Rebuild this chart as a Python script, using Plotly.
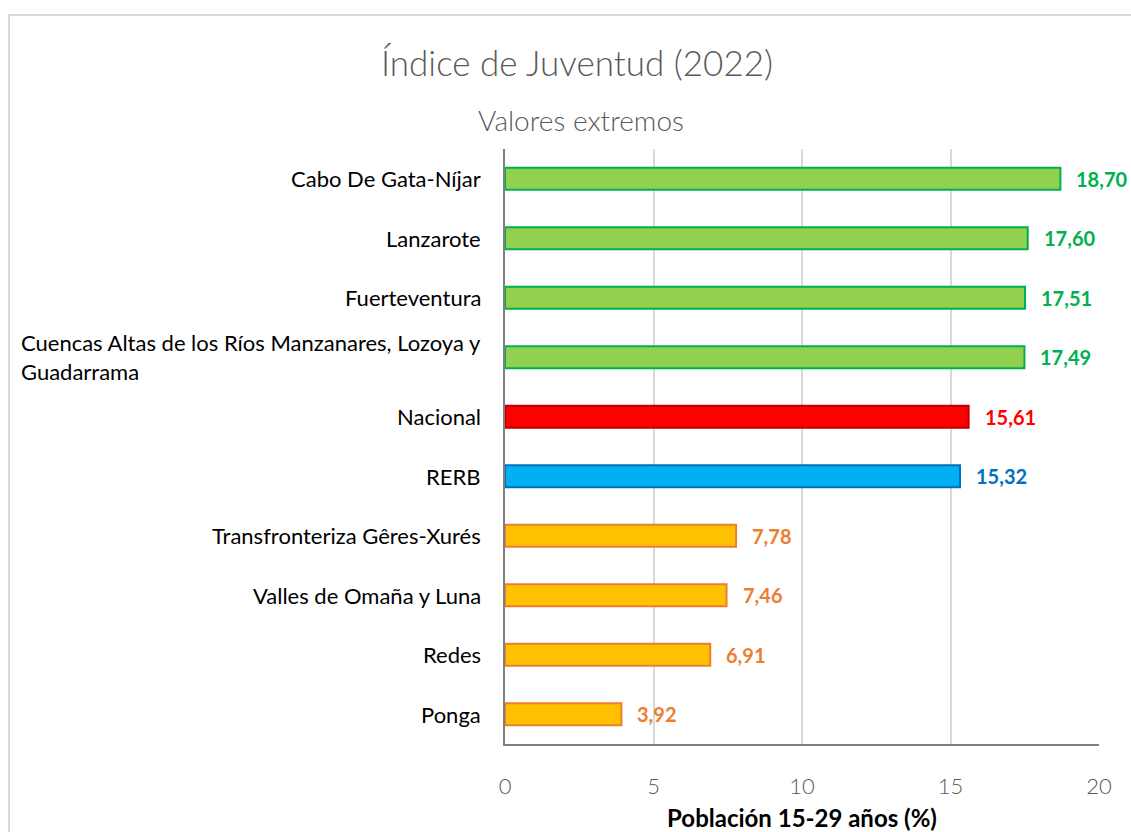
import plotly.graph_objects as go

categories = [
    "Cabo De Gata-Níjar",
    "Lanzarote",
    "Fuerteventura",
    "Cuencas Altas de los Ríos Manzanares, Lozoya y<br>Guadarrama",
    "Nacional",
    "RERB",
    "Transfronteriza Gêres-Xurés",
    "Valles de Omaña y Luna",
    "Redes",
    "Ponga",
]
values = [18.70, 17.60, 17.51, 17.49, 15.61, 15.32, 7.78, 7.46, 6.91, 3.92]
groups = ["top", "top", "top", "top", "nacional", "rerb", "low", "low", "low", "low"]
x_ticks = [0, 5, 10, 15, 20]

fill_colors = {"top": "#92D050", "nacional": "#FF0000", "rerb": "#00B0F0", "low": "#FFC000"}
line_colors = {"top": "#00B050", "nacional": "#C00000", "rerb": "#0070C0", "low": "#ED7D31"}
text_colors = {"top": "#00B050", "nacional": "#FF0000", "rerb": "#0070C0", "low": "#ED7D31"}

FONT = "Lato"
W, H = 1131, 832
L, R, T, B = 505, 32, 149, 88
pw, ph = W - L - R, H - T - B


def px_x(page_x):
    return (page_x - L) / pw


def px_y(page_y):
    return (H - B - page_y) / ph


fig = go.Figure()
fig.add_trace(go.Bar(
    y=categories,
    x=values,
    orientation="h",
    width=0.37,
    marker=dict(
        color=[fill_colors[g] for g in groups],
        line=dict(color=[line_colors[g] for g in groups], width=2),
    ),
    hoverinfo="x+y",
))

annotations = []
for c, v, g in zip(categories, values, groups):
    annotations.append(dict(
        x=v, y=c, xref="x", yref="y",
        text="<b>" + f"{v:.2f}".replace(".", ",") + "</b>",
        showarrow=False, xanchor="left", xshift=14,
        font=dict(family=FONT, size=20, color=text_colors[g]),
    ))
    annotations.append(dict(
        x=px_x(483), y=c, xref="paper", yref="y",
        text=c, showarrow=False, xanchor="right", align="left",
        font=dict(family=FONT, size=22, color="#000000"),
    ))

annotations.append(dict(
    x=px_x(577), y=px_y(62), xref="paper", yref="paper",
    text="Índice de Juventud (2022)", showarrow=False,
    xanchor="center", yanchor="middle",
    font=dict(family=FONT, size=35, color="#595959", weight=300),
))
annotations.append(dict(
    x=px_x(581), y=px_y(120), xref="paper", yref="paper",
    text="Valores extremos", showarrow=False,
    xanchor="center", yanchor="middle",
    font=dict(family=FONT, size=28, color="#595959", weight=300),
))

shapes = [dict(
    type="rect", xref="paper", yref="paper",
    x0=px_x(9), x1=px_x(1170),
    y0=px_y(870), y1=px_y(15),
    line=dict(color="#D9D9D9", width=2), fillcolor="rgba(0,0,0,0)", layer="below",
)]

fig.update_layout(
    width=W, height=H,
    margin=dict(l=L, r=R, t=T, b=B, autoexpand=False),
    paper_bgcolor="white", plot_bgcolor="white",
    showlegend=False,
    annotations=annotations,
    shapes=shapes,
    xaxis=dict(
        range=[0, 20], tickvals=x_ticks, ticktext=[str(t) for t in x_ticks],
        showgrid=True, gridcolor="#D9D9D9", gridwidth=1.5,
        showline=True, linecolor="#808080", linewidth=1.5,
        zeroline=False, ticks="", ticklabelstandoff=22, automargin=False,
        tickfont=dict(family=FONT, size=22, color="#595959", weight=300),
        title=dict(text="<b>Población 15-29 años (%)</b>", standoff=12,
                   font=dict(family=FONT, size=24, color="#000000")),
        fixedrange=True,
    ),
    yaxis=dict(
        autorange="reversed", showticklabels=False, automargin=False,
        showline=True, linecolor="#808080", linewidth=1.5,
        showgrid=False, ticks="", fixedrange=True,
    ),
)

fig.write_html(
    "out.html",
    config={"displayModeBar": False},
    post_script="document.body.style.margin='0';",
)
